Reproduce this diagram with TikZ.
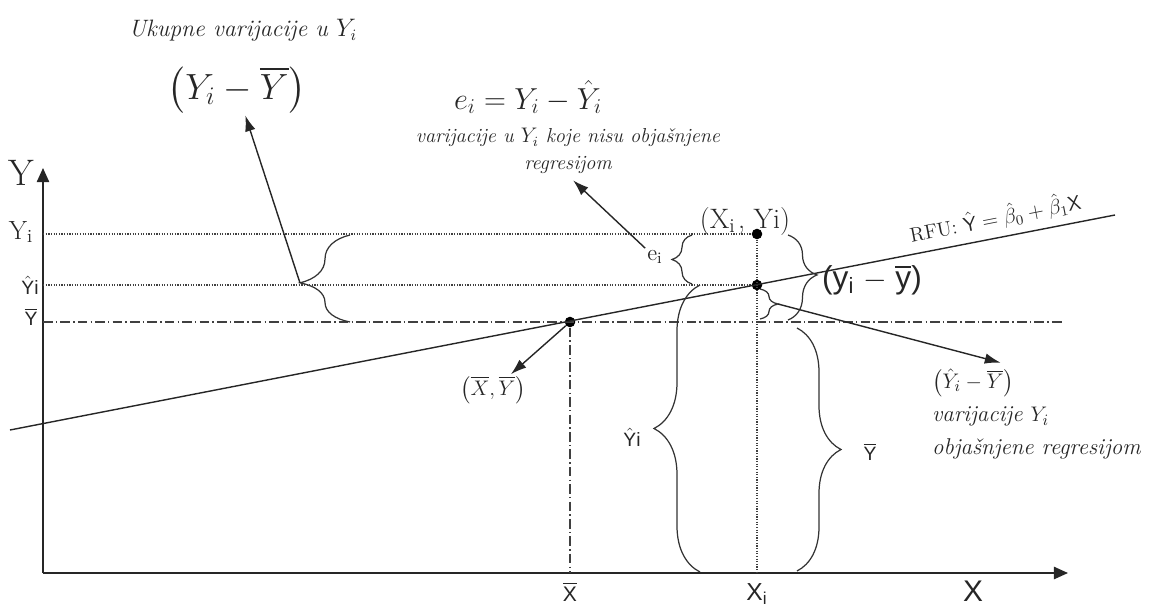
\documentclass[tikz,border=0pt]{standalone}
\usepackage{amsmath,amssymb}
\usepackage{fontspec}
\newfontfamily\sansfam{Liberation Sans}
\usetikzlibrary{arrows.meta,positioning,decorations.pathreplacing,calc}
\newcommand{\sbar}[1]{\ensuremath{\overline{\hbox{#1}}}}
\newcommand{\shat}[1]{\ensuremath{\hat{\hbox{#1}}}}

\begin{document}
\begin{tikzpicture}[x=0.02cm, y=-0.02cm,
    every node/.style={inner sep=1pt, text=black!85},
    ax/.style={-{Triangle[length=8pt,width=7pt]}, black!85, line width=0.9pt},
    reg/.style={black!85, line width=0.8pt},
    dotl/.style={black!75, line width=0.8pt, dash pattern=on 0.7pt off 0.8pt},
    dashdotl/.style={black!75, line width=0.7pt, dash pattern=on 5.5pt off 1.8pt on 0.8pt off 1.8pt},
    pt/.style={circle, fill=black, inner sep=0pt, minimum size=6pt},
    brc/.style 2 args={decorate, decoration={brace, amplitude=#1, aspect=#2}, black!80, line width=0.7pt},
    arr/.style={-{Latex[length=9pt,width=6pt]}, black!85, line width=0.8pt},
    lab/.style={font=\fontsize{11}{11}\sansfam},
    itx/.style={font=\fontsize{13}{18.7}\selectfont\itshape}
]
  \useasboundingbox (0,0) rectangle (1171,608);

  % axes
  \coordinate (O) at (43,573);
  \coordinate (ytop) at (43,168);
  \coordinate (xend) at (1068,573);
  \draw[ax] (O) -- (ytop);
  \draw[ax] (O) -- (xend);

  \node[font=\fontsize{21}{21}\selectfont] (ylab) at (21,173) {Y};
  \node[font=\fontsize{15}{15}\selectfont] (yilab) at (21,232) {Y\textsubscript{i}};
  \node[lab] (yhlab) at (30,285) {\shat{Y}i};
  \node[lab] (yblab) at (31,317) {\sbar{Y}};

  \node[lab, font=\fontsize{12}{12}\sansfam] (xblab) at (570,592) {\sbar{X}};
  \node[lab, font=\fontsize{14}{14}\sansfam] (xilab) at (757,594) {X\textsubscript{i}};
  \node[lab, font=\fontsize{17}{17}\sansfam] (xlab) at (973,591) {X};

  % points
  \node[pt] (P) at (757,234) {};
  \node[pt] (Q) at (757,285) {};
  \node[pt] (M) at (570,322) {};

  % guide lines
  \draw[dotl] (43,234) -- (P);
  \draw[dotl] (43,285) -- (Q);
  \draw[dashdotl] (43,322) -- (1062,322);
  \draw[dashdotl] (M) -- (570,573);
  \draw[dotl] (P) -- (757,573);

  % regression line
  \coordinate (r0) at (10,430);
  \coordinate (r1) at (1115,215);
  \draw[reg] (r0) -- (r1)
    node[pos=0.895, sloped, above=3pt, font=\fontsize{11.5}{12}\selectfont]
    {RFU: $\hat{\mathsf{Y}}=\hat{\beta}_0+\hat{\beta}_1\mathsf{X}$};

  % braces
  \draw[brc={1cm}{0.45}] (350,322) -- (350,235);
  \draw[brc={0.4cm}{0.5}] (692,284) -- (692,235);
  \draw[brc={0.58cm}{0.47}] (788,235) -- (788,320);
  \draw[brc={0.36cm}{0.5}] (760,289) -- (760,319);
  \draw[brc={0.92cm}{0.5}] (700,572) -- (700,285);
  \draw[brc={0.88cm}{0.5}] (797,328) -- (797,571);
  \coordinate (tA) at (300,283);
  \coordinate (tD) at (778,304);

  % labels
  \node[font=\fontsize{13.5}{16}\selectfont\itshape] (ukup) at (243,30) {Ukupne varijacije u $Y_i$};
  \node[font=\fontsize{22}{26}\selectfont] (tot) at (237,90) {$\left(Y_i-\overline{Y}\right)$};
  \node[font=\fontsize{18}{20}\selectfont] (eq) at (528,97) {$e_i=Y_i-\hat{Y}_i$};
  \node[font=\fontsize{11.5}{15}\selectfont\itshape, align=center] (unexp) at (568,151)
    {varijacije u $Y_i$ koje nisu objašnjene\\regresijom};
  \node[font=\fontsize{13}{15}\selectfont] (ei) at (655,257) {e\textsubscript{i}};
  \node[font=\fontsize{16}{18}\selectfont] (Plab) at (745,221) {(X\textsubscript{i}\kern1.5pt, Yi)};
  \node[font=\fontsize{18}{20}\sansfam] (dev) at (872,280) {(y\textsubscript{i} $-$ \sbar{y})};
  \node[font=\fontsize{13}{15}\selectfont] (mlab) at (493,390) {$\left(\overline{X},\overline{Y}\right)$};
  \node[lab] (yhb) at (632,437) {\shat{Y}i};
  \node[lab] (ybb) at (870,452) {\sbar{Y}};
  \node[font=\fontsize{13}{15}\selectfont, anchor=west] (expl) at (930,383) {$\left(\hat{Y}_i-\overline{Y}\right)$};
  \node[itx, align=left, anchor=north west] (expltxt) at (930,405)
    {varijacije $Y_i$\\objašnjene regresijom};

  % arrows
  \draw[arr] (tA) -- (tot);
  \draw[arr, shorten >=4pt] (ei.north west) -- (unexp.south);
  \draw[arr, shorten >=9pt] (tD) -- (expl.north east);
  \draw[arr] (M) -- (mlab);
\end{tikzpicture}
\end{document}
